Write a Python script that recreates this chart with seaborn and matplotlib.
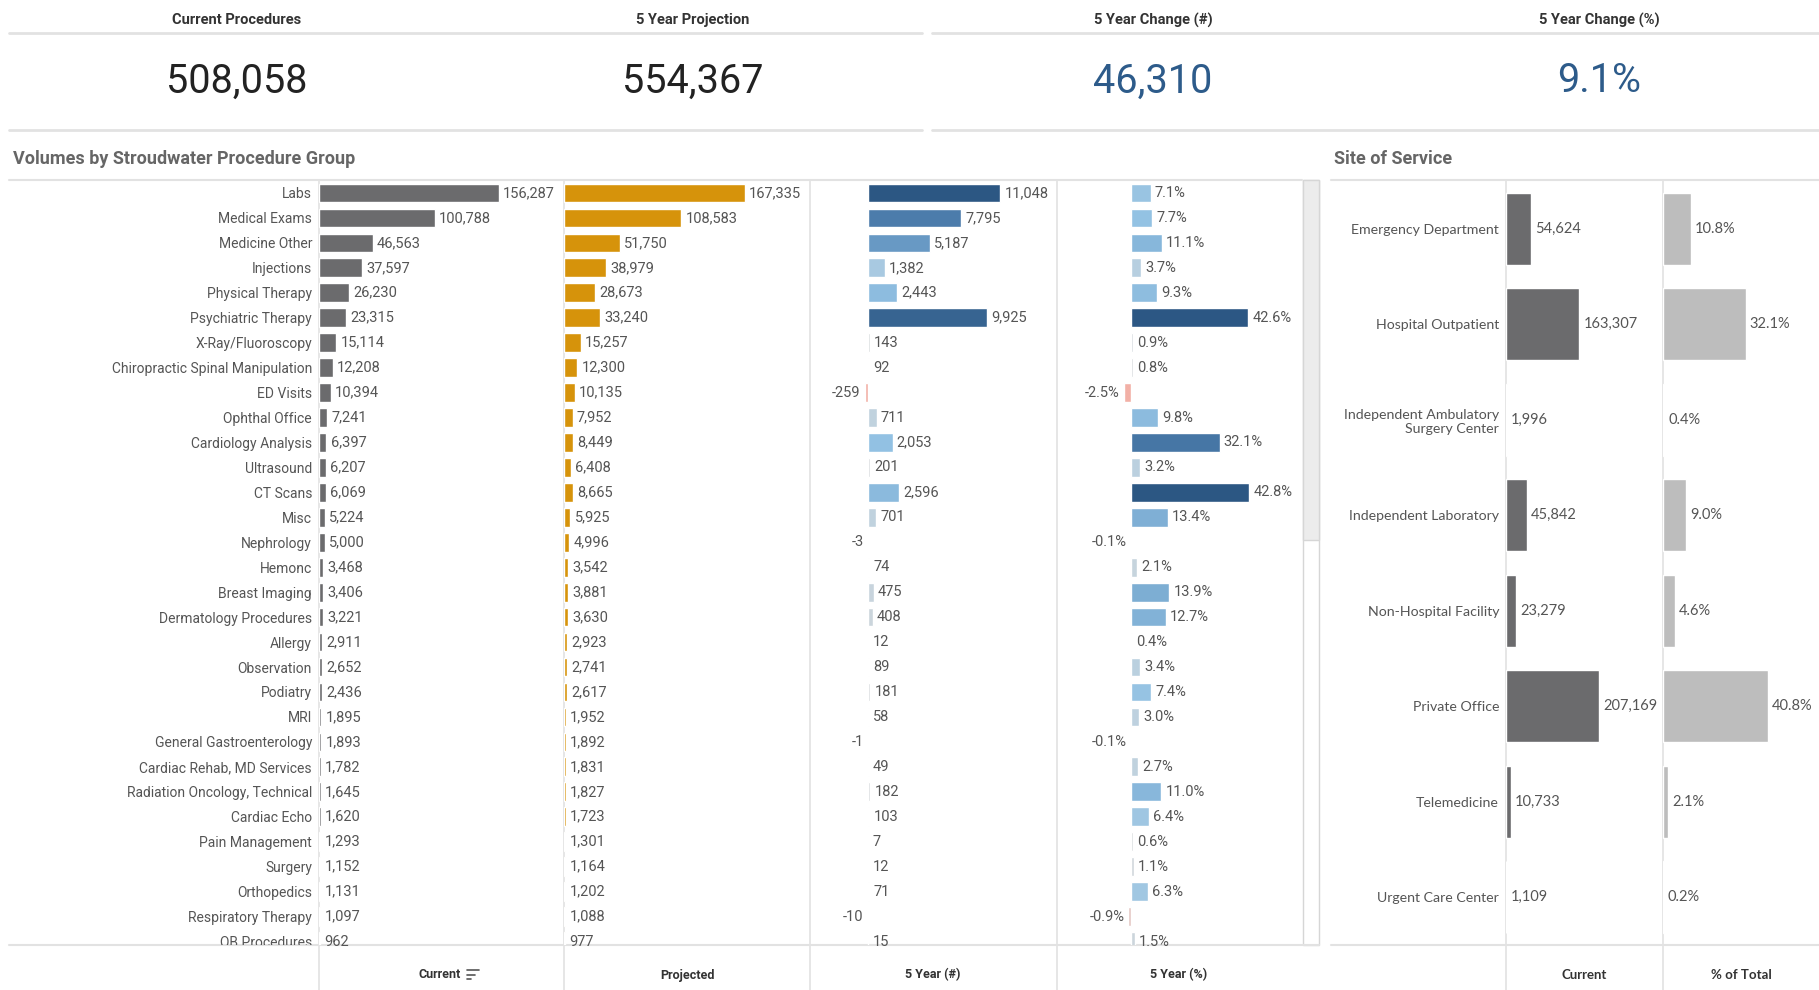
import matplotlib
matplotlib.use('Agg')
import matplotlib.pyplot as plt
import seaborn as sns
from matplotlib.colors import LinearSegmentedColormap
from matplotlib.transforms import Bbox, TransformedBbox
from matplotlib.patches import Rectangle

# --- Data ---
kpi_titles = ['Current Procedures', '5 Year Projection', '5 Year Change (#)', '5 Year Change (%)']
kpi_values = ['508,058', '554,367', '46,310', '9.1%']

groups = ['Labs', 'Medical Exams', 'Medicine Other', 'Injections', 'Physical Therapy',
          'Psychiatric Therapy', 'X-Ray/Fluoroscopy', 'Chiropractic Spinal Manipulation',
          'ED Visits', 'Ophthal Office', 'Cardiology Analysis', 'Ultrasound', 'CT Scans',
          'Misc', 'Nephrology', 'Hemonc', 'Breast Imaging', 'Dermatology Procedures',
          'Allergy', 'Observation', 'Podiatry', 'MRI', 'General Gastroenterology',
          'Cardiac Rehab, MD Services', 'Radiation Oncology, Technical', 'Cardiac Echo',
          'Pain Management', 'Surgery', 'Orthopedics', 'Respiratory Therapy', 'OB Procedures']
current = [156287, 100788, 46563, 37597, 26230, 23315, 15114, 12208, 10394, 7241, 6397,
           6207, 6069, 5224, 5000, 3468, 3406, 3221, 2911, 2652, 2436, 1895, 1893, 1782,
           1645, 1620, 1293, 1152, 1131, 1097, 962]
projected = [167335, 108583, 51750, 38979, 28673, 33240, 15257, 12300, 10135, 7952, 8449,
             6408, 8665, 5925, 4996, 3542, 3881, 3630, 2923, 2741, 2617, 1952, 1892, 1831,
             1827, 1723, 1301, 1164, 1202, 1088, 977]
change_num = [11048, 7795, 5187, 1382, 2443, 9925, 143, 92, -259, 711, 2053, 201, 2596, 701,
              -3, 74, 475, 408, 12, 89, 181, 58, -1, 49, 182, 103, 7, 12, 71, -10, 15]
change_pct = [7.1, 7.7, 11.1, 3.7, 9.3, 42.6, 0.9, 0.8, -2.5, 9.8, 32.1, 3.2, 42.8, 13.4,
              -0.1, 2.1, 13.9, 12.7, 0.4, 3.4, 7.4, 3.0, -0.1, 2.7, 11.0, 6.4, 0.6, 1.1,
              6.3, -0.9, 1.5]

sites = ['Emergency Department', 'Hospital Outpatient', 'Independent Ambulatory\nSurgery Center',
         'Independent Laboratory', 'Non-Hospital Facility', 'Private Office', 'Telemedicine',
         'Urgent Care Center']
site_current = [54624, 163307, 1996, 45842, 23279, 207169, 10733, 1109]
site_pct = [10.8, 32.1, 0.4, 9.0, 4.6, 40.8, 2.1, 0.2]

# --- Style ---
sns.set_theme(style='white')
NARROW = ['Roboto', 'DejaVu Sans']
WIDE = ['Lato', 'DejaVu Sans']
plt.rcParams['font.family'] = NARROW

W, H = 1819, 990
fig = plt.figure(figsize=(W / 100, H / 100), dpi=100)
fig.patch.set_facecolor('white')

LINE = '#e2e2e2'
TXT = '#555555'

bg = fig.add_axes([0, 0, 1, 1], zorder=0)
bg.set_xlim(0, W)
bg.set_ylim(H, 0)
bg.axis('off')


def px_axes(x0, y0, x1, y1):
    ax = fig.add_axes([x0 / W, 1 - y1 / H, (x1 - x0) / W, (y1 - y0) / H], zorder=2)
    ax.set_facecolor('none')
    return ax


pos_cmap = LinearSegmentedColormap.from_list('pos', [(0, '#d9d9d9'), (0.07, '#bdd1df'),
                                                     (0.18, '#93c2e3'), (0.45, '#6a9cc6'),
                                                     (0.72, '#4a7aaa'), (1, '#2c5783')])
neg_cmap = LinearSegmentedColormap.from_list('neg', ['#dcd6d5', '#f2b0a6'])


def diverging(vals):
    hi, lo = max(vals), min(vals)
    return [pos_cmap(v / hi) if v >= 0 else neg_cmap(v / lo) for v in vals]


def bar_column(ax, cats, vals, colors, xlim, ylim, fmt, family, size, lab_size,
               show_labels=False):
    sns.barplot(x=vals, y=cats, hue=cats, order=cats, hue_order=cats,
                palette=dict(zip(cats, colors)), legend=False, saturation=1,
                width=0.75, dodge=False, orient='h', ax=ax)
    ax.set_xlim(*xlim)
    ax.set_ylim(*ylim)
    ax.set_xlabel('')
    ax.set_ylabel('')
    ax.set_xticks([])
    for s in ax.spines.values():
        s.set_visible(False)
    ax.tick_params(axis='y', length=0, pad=5, labelsize=lab_size, labelcolor=TXT)
    if not show_labels:
        ax.tick_params(axis='y', labelleft=False)
    else:
        for t in ax.get_yticklabels():
            t.set_family(family)
    for c in ax.containers:
        anns = ax.bar_label(c, fmt=fmt, padding=3, fontsize=size, color=TXT, family=family)
        for a in anns:
            a.set_clip_on(True)


# --- KPI band ---
kpi_x = [237, 693, 1153, 1599]
kpi_colors = ['#222222', '#222222', '#2d5b8a', '#2d5b8a']
for x, t, v, c in zip(kpi_x, kpi_titles, kpi_values, kpi_colors):
    bg.text(x, 20, t, ha='center', va='center', fontsize=10.5, weight='bold', color='#333333')
    bg.text(x, 81, v, ha='center', va='center', fontsize=28.5, color=c)
for y in (33, 130):
    bg.plot([9, 922], [y, y], color=LINE, lw=2)
    bg.plot([932, W], [y, y], color=LINE, lw=2)

# --- section titles and frames ---
bg.text(13, 159, 'Volumes by Stroudwater Procedure Group', ha='left', va='center',
        fontsize=13, weight='bold', color='#666666')
bg.text(1334, 159, 'Site of Service', ha='left', va='center',
        fontsize=13, weight='bold', color='#666666')
bg.plot([9, 1302], [180, 180], color=LINE, lw=1.5)
bg.plot([1331, W], [180, 180], color=LINE, lw=1.5)
bg.plot([9, 1319], [945, 945], color=LINE, lw=1.5)
bg.plot([1331, W], [945, 945], color=LINE, lw=1.5)
for x in (319, 564, 810, 1057, 1506, 1663):
    bg.plot([x, x], [180, H], color=LINE, lw=1.2)
bg.add_patch(Rectangle((1303, 180), 16, 765, facecolor='white', edgecolor='#d6d6d6', lw=1))
bg.add_patch(Rectangle((1303, 180), 16, 360, facecolor='#ececec', edgecolor='#d6d6d6', lw=1))

# --- left panel columns ---
rows_ylim = (30.14, -0.52)
ax_cur = px_axes(319, 180, 564, 945)
bar_column(ax_cur, groups, current, ['#6b6b6d'] * len(groups), (0, 212700), rows_ylim,
           lambda v: f'{v:,.0f}', NARROW, 10.5, 10, show_labels=True)
clip = TransformedBbox(Bbox.from_extents(0, 1 - 945 / H, 1, 1 - 180 / H), fig.transFigure)
for t in ax_cur.get_yticklabels():
    t.set_clip_box(clip)
    t.set_clip_on(True)

ax_proj = px_axes(564, 180, 810, 945)
bar_column(ax_proj, groups, projected, ['#d6930b'] * len(groups), (0, 227400), rows_ylim,
           lambda v: f'{v:,.0f}', NARROW, 10.5, 10)

ax_num = px_axes(810, 180, 1057, 945)
bar_column(ax_num, groups, change_num, diverging(change_num), (-4850, 15800), rows_ylim,
           lambda v: f'{v:,.0f}', NARROW, 10.5, 10)

ax_pct = px_axes(1057, 180, 1302, 945)
bar_column(ax_pct, groups, change_pct, diverging(change_pct), (-26.8, 62.0), rows_ylim,
           lambda v: f'{v:.1f}%', NARROW, 10.5, 10)

# --- site of service ---
site_ylim = (7.5, -0.51)
ax_sc = px_axes(1506, 180, 1663, 945)
bar_column(ax_sc, sites, site_current, ['#6b6b6d'] * len(sites), (0, 350000), site_ylim,
           lambda v: f'{v:,.0f}', WIDE, 10.5, 10.2, show_labels=True)
for t in ax_sc.get_yticklabels():
    t.set_multialignment('right')

ax_sp = px_axes(1663, 180, W, 945)
bar_column(ax_sp, sites, site_pct, ['#bdbdbd'] * len(sites), (0, 60.6), site_ylim,
           lambda v: f'{v:.1f}%', WIDE, 10.5, 10.2)

# --- column headers ---
headers = [(440, 'Current'), (687, 'Projected'), (933, '5 Year (#)'), (1179, '5 Year (%)')]
for x, t in headers:
    bg.text(x, 975, t, ha='center', va='center', fontsize=9, weight='bold', color='#333333')
for x, t in [(1584, 'Current'), (1741, '% of Total')]:
    bg.text(x, 975, t, ha='center', va='center', fontsize=9.5, weight='bold',
            color='#333333', family=WIDE)
# sort icon next to "Current"
for i, ln in enumerate([12, 8, 4]):
    bg.plot([467, 467 + ln], [970 + i * 4.5, 970 + i * 4.5], color='#555555', lw=1.2)

fig.savefig('out.png', dpi=100, facecolor='white')
